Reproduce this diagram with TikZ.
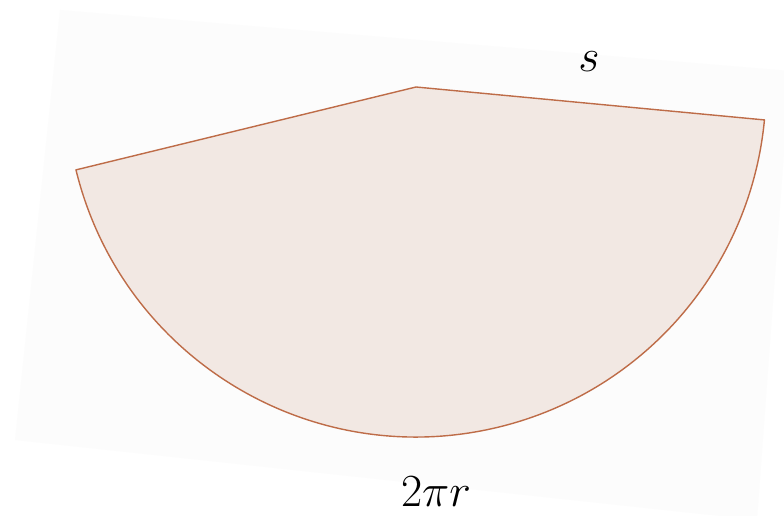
\documentclass[tikz,border=0pt]{standalone}
\definecolor{sheet}{RGB}{252,252,252}
\definecolor{sectorfill}{RGB}{242,232,227}
\definecolor{sectorline}{RGB}{190,108,72}
\begin{document}
\begin{tikzpicture}[x=1pt,y=1pt,
  lbl/.style={anchor=base,inner sep=0pt,font=\Huge,scale=1.85}]
\useasboundingbox (0,0) rectangle (784,515);
\fill[white] (0,0) rectangle (784,515);
% faint tilted sheet
\fill[sheet] (60,505) -- (790,444) -- (757,-5) -- (15,75) -- cycle;
% sector
\coordinate (apex) at (416,428);
\filldraw[fill=sectorfill,draw=sectorline,line width=1.4pt,line join=round]
  (apex) -- ++(193.7:350) arc[start angle=193.7,end angle=354.6,radius=350] -- cycle;
\node[lbl] (s) at (589,443) {$s$};
\node[lbl] (c) at (436,9) {$2\pi r$};
\end{tikzpicture}
\end{document}
